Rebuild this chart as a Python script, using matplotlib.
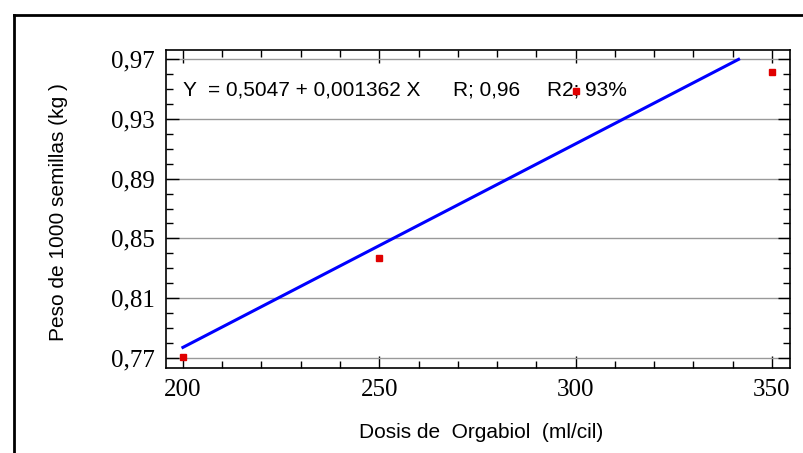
import numpy as np
import matplotlib.pyplot as plt
from matplotlib.lines import Line2D
from matplotlib.ticker import MultipleLocator, FixedLocator

# data
dosis = [200, 250, 300, 350]
peso = [0.771, 0.837, 0.9485, 0.9612]
intercept = 0.5047
slope = 0.001362
fit_range = [200, 341.5]
y_ticks = [0.77, 0.81, 0.85, 0.89, 0.93, 0.97]
y_tick_labels = ["0,77", "0,81", "0,85", "0,89", "0,93", "0,97"]
x_ticks = [200, 250, 300, 350]

sans = ["Liberation Sans", "DejaVu Sans"]
serif = ["Liberation Serif", "DejaVu Serif"]

fig = plt.figure(figsize=(8.04, 4.53), dpi=100)
ax = fig.add_axes([0.206, 0.1876, 0.7766, 0.7031])

# fitted line
xf = np.array(fit_range)
ax.plot(xf, intercept + slope * xf, color="#0000ff", lw=2.2, zorder=3)
ax.plot(dosis, peso, "s", color="#e00000", ms=4, zorder=4)

ax.set_xlim(195.6, 354.6)
ax.set_ylim(0.7633, 0.9764)

ax.yaxis.set_major_locator(FixedLocator(y_ticks))
ax.set_yticklabels(y_tick_labels, family=serif, fontsize=18)
ax.yaxis.set_minor_locator(MultipleLocator(0.01))
ax.xaxis.set_major_locator(FixedLocator(x_ticks))
ax.set_xticklabels([str(v) for v in x_ticks], family=serif, fontsize=18)
ax.xaxis.set_minor_locator(MultipleLocator(10))

ax.tick_params(which="both", direction="in", top=True, right=True, width=1)
ax.tick_params(which="major", length=9, pad=8)
ax.tick_params(which="minor", length=5)
ax.grid(axis="y", which="major", color="#999999", lw=1)
for s in ax.spines.values():
    s.set_linewidth(1.2)

ax.set_xlabel("Dosis de  Orgabiol  (ml/cil)", family=sans, fontsize=15)
ax.set_ylabel("Peso de 1000 semillas (kg )", family=sans, fontsize=15)
ax.xaxis.set_label_coords(0.505, -0.172)
ax.yaxis.set_label_coords(-0.156, 0.49)

ax.text(0.0277, 0.873, "Y  = 0,5047 + 0,001362 X", transform=ax.transAxes,
        family=sans, fontsize=15, va="center")
ax.text(0.46, 0.873, "R; 0,96", transform=ax.transAxes,
        family=sans, fontsize=15, va="center")
ax.text(0.611, 0.873, "R2; 93%", transform=ax.transAxes,
        family=sans, fontsize=15, va="center")

# outer frame (left and top edges visible)
fx, fy = 14 / 804, 1 - 15 / 453
fig.add_artist(Line2D([fx, fx], [0, fy], color="black", lw=2, transform=fig.transFigure))
fig.add_artist(Line2D([fx, 1], [fy, fy], color="black", lw=2, transform=fig.transFigure))

fig.savefig("out.png", dpi=100)
